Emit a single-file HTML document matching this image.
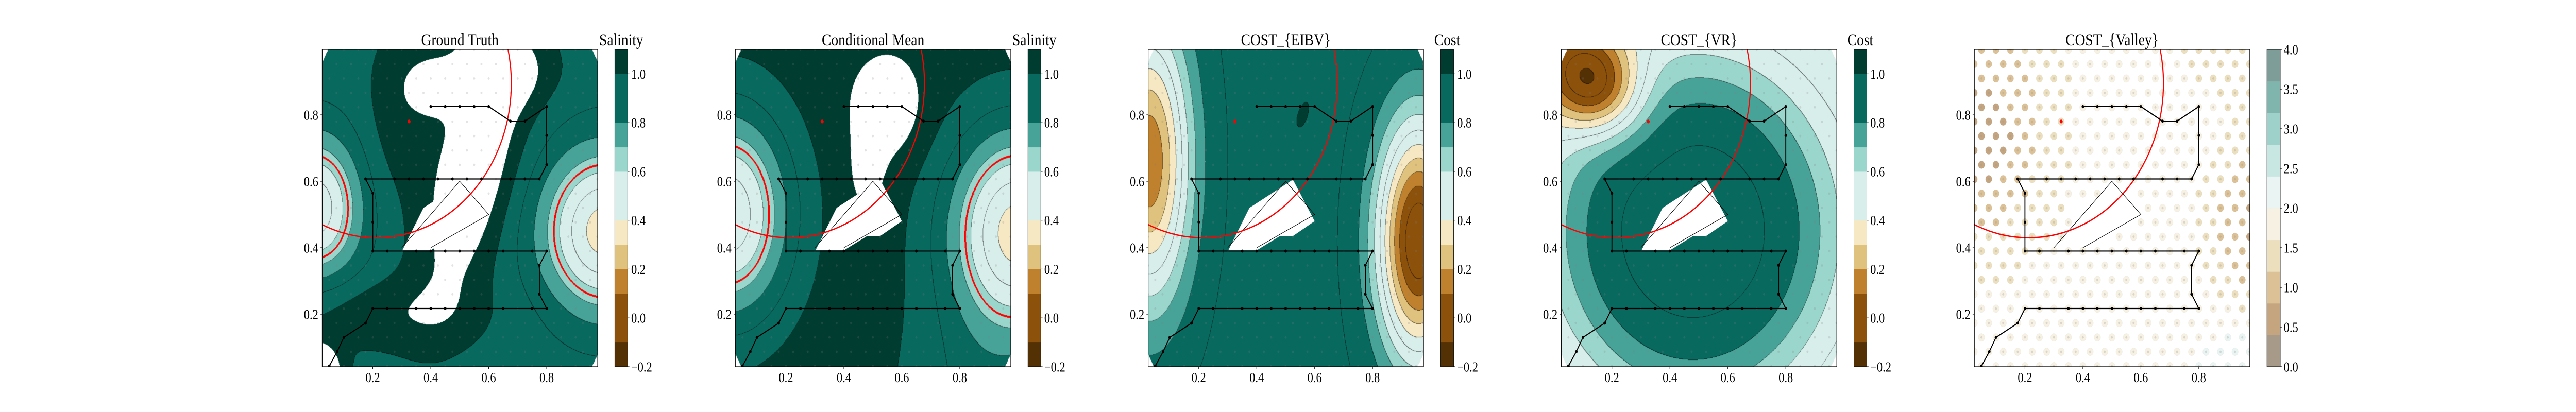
<!DOCTYPE html>
<html><head><meta charset="utf-8">
<style>
html,body{margin:0;padding:0;background:#fff;overflow:hidden;}
#root{position:relative;width:6000px;height:800px;overflow:hidden;background:#fff;transform-origin:0 0;}
canvas{position:absolute;}
svg{position:absolute;left:0;top:0;}
text{font-family:"Liberation Serif","DejaVu Serif",serif;fill:#000;}
</style></head>
<body>
<div id="root">
<svg id="ov" width="6000" height="800"></svg>
</div>
<script>
// ---------- data ----------
const panelTitles=['Ground Truth','Conditional Mean','COST_{EIBV}','COST_{VR}','COST_{Valley}'];
const cbarLabels=['Salinity','Salinity','Cost','Cost',''];
const xTicks=[0.2,0.4,0.6,0.8];
const yTicks=[0.2,0.4,0.6,0.8];
const cbarTicks=[-0.2,0.0,0.2,0.4,0.6,0.8,1.0];
const valleyTicks=[0.0,0.5,1.0,1.5,2.0,2.5,3.0,3.5,4.0];
const levelColors=['#543005','#8c510a','#8c510a','#bf812d','#dfc27d','#f6e8c3','#d8eeea','#d8eeea','#9ad6cc','#47a398','#08695f','#08695f','#003c30'];
const valleyColors=['#a89a88','#c4a580','#dcc196','#ecdfbe','#f6f1e3','#eaf4f2','#c8e7e2','#9fd1cb','#80b5ae','#7f9d98'];
const pathX=[0.05,0.077,0.1,0.175,0.2,0.8,0.775,0.775,0.8,0.2,0.2,0.2,0.175,0.775,0.8,0.8,0.8,0.725,0.675,0.6,0.4];
const pathY=[0.044,0.087,0.13,0.173,0.217,0.217,0.26,0.347,0.39,0.39,0.477,0.564,0.607,0.607,0.65,0.738,0.825,0.781,0.781,0.825,0.825];
const markX=[0.25,0.35,0.4,0.45,0.5,0.55,0.6,0.65,0.75, 0.25,0.35,0.4,0.45,0.5,0.55,0.6,0.65,0.75, 0.275,0.325,0.375,0.425,0.475,0.525,0.575,0.675,0.725, 0.45,0.5,0.55];
const markY=[0.217,0.217,0.217,0.217,0.217,0.217,0.217,0.217,0.217, 0.39,0.39,0.39,0.39,0.39,0.39,0.39,0.39,0.39, 0.607,0.607,0.607,0.607,0.607,0.607,0.607,0.607,0.607, 0.825,0.825,0.825];
const obstacleX=[0.302,0.375,0.525,0.6,0.525,0.48,0.4];
const obstacleY=[0.392,0.52,0.605,0.48,0.435,0.435,0.392];
const wedgeX=[0.3,0.5,0.6,0.4];
const wedgeY=[0.4,0.6,0.5,0.4];
const circleCenter=[0.213,0.895];
const circleRadius=0.465;
const targetPoint=[0.325,0.78];
// field parameters: [cx, cy, sx, sy, amplitude, angleDeg]
const gtBase=0.95;
const gtBumps=[[0.55,0.65,0.10,0.30,0.28,-15],[0.60,0.93,0.15,0.08,0.18,0],[0.20,0.20,0.26,0.08,0.12,0],[0.28,0.80,0.08,0.20,0.10,0],[0.40,0.88,0.05,0.05,0.22,0],[0.00,0.52,0.11,0.15,-0.52,0],[1.00,0.45,0.15,0.17,-0.60,0],[0.00,0.02,0.06,0.06,0.40,0]];
const cmBase=1.06;
const cmBumps=[[0.00,0.50,0.15,0.22,-0.64,0],[1.00,0.45,0.17,0.22,-0.70,0],[0.85,-0.10,0.20,0.25,-0.15,0],[0.55,0.82,0.09,0.11,0.12,0],[0.48,0.62,0.045,0.09,0.08,0]];
const eibvBase=0.92;
const eibvBumps=[[0.03,0.66,0.10,0.30,-0.80,0],[0.96,0.42,0.10,0.25,-1.02,0],[0.56,0.80,0.015,0.035,0.15,-20]];
const vrPlateau=[0.48,0.45,0.35,0.37,0.93,0.5];
const vrBumps=[[0.13,0.90,0.12,0.10,-0.64,-35]];
const valleyBase=1.8;
const valleyBumps=[[0.05,0.75,0.17,0.25,-1.2,0],[1.00,0.45,0.12,0.20,-1.1,0],[0.90,1.00,0.15,0.10,-0.4,0],[0.95,0.05,0.12,0.12,0.6,0]];
const redLevel=0.65;

// ---------- fit viewport (only if narrower than the 6000px frame) ----------
(function(){
  const vw=Math.min(window.innerWidth||6000, document.documentElement.clientWidth||6000);
  if(vw>0 && vw<6000){
    document.getElementById('root').style.transform='scale('+(vw/6000)+',1)';
  }
})();

// ---------- geometry ----------
const PL=[750.5,1712.8,2674.3,3636.7,4598.7], PW=641.5, PT=96, PH=616;
const X0=0.0255, XS=0.9505;
function px(i,x){return PL[i]+(x-X0)/XS*PW;}
function py(y){return 739-y*645;}
function cbY(t){return PT+(1.1-t)/1.3*PH;}
function vbY(t){return PT+(4-t)/4*PH;}

function bumpSum(b,x,y){
  let s=0;
  for(const q of b){
    const a=q[5]*Math.PI/180, dx=x-q[0], dy=y-q[1];
    const u=dx*Math.cos(a)+dy*Math.sin(a), w=-dx*Math.sin(a)+dy*Math.cos(a);
    s+=q[4]*Math.exp(-(u*u/(2*q[2]*q[2])+w*w/(2*q[3]*q[3])));
  }
  return s;
}
function field(i,x,y){
  if(i===0) return gtBase+bumpSum(gtBumps,x,y);
  if(i===1) return cmBase+bumpSum(cmBumps,x,y);
  if(i===2) return eibvBase+bumpSum(eibvBumps,x,y);
  if(i===3){
    const p=vrPlateau, rx=(x-p[0])/p[2], ry=(y-p[1])/p[3], r2=(rx*rx+ry*ry)/2;
    return p[4]-p[5]*(1-Math.exp(-r2*r2))+bumpSum(vrBumps,x,y);
  }
  return valleyBase+bumpSum(valleyBumps,x,y);
}
function hex(c){return [parseInt(c.substr(1,2),16),parseInt(c.substr(3,2),16),parseInt(c.substr(5,2),16)];}
function inPoly(x,y,X,Y){
  let c=false;
  for(let i=0,j=X.length-1;i<X.length;j=i++){
    if(((Y[i]>y)!==(Y[j]>y))&&(x<(X[j]-X[i])*(y-Y[i])/(Y[j]-Y[i])+X[i]))c=!c;
  }
  return c;
}

// ---------- contour rasters ----------
const root=document.getElementById('root');
const lc=levelColors.map(hex);
const canvasNames=['ground-truth-contour','conditional-mean-contour','eibv-cost-contour','vr-cost-contour'];
for(let i=0;i<4;i++){
  const W=642,H=616;
  const cv=document.createElement('canvas');
  cv.width=W;cv.height=H;
  cv.style.left=PL[i]+'px';cv.style.top=PT+'px';
  
  
  root.insertBefore(cv,document.getElementById('ov'));
  const ctx=cv.getContext('2d');
  const img=ctx.createImageData(W,H);
  const V=new Float32Array(W*H), L=new Int8Array(W*H), M=new Uint8Array(W*H);
  for(let r=0;r<H;r++)for(let c=0;c<W;c++){
    const x=X0+(c+0.5)/PW*XS, y=(739-(PT+r+0.5))/645;
    const k=r*W+c;
    const cx=Math.min(x-X0,0.976-x)/0.02, cy=Math.min(y-0.042,0.997-y)/0.038;
    if(cx+cy<1){M[k]=1;L[k]=-1;continue;}
    const v=field(i,x,y);V[k]=v;
    const idx=Math.floor((v+0.2)/0.1);
    L[k]=(idx<0||idx>12)?-1:idx;
  }
  const red=(i<2);
  for(let r=0;r<H;r++)for(let c=0;c<W;c++){
    const k=r*W+c, o=k*4;
    let col=[255,255,255];
    if(L[k]>=0){
      col=lc[L[k]].slice();
      let edge=false;
      if(c+1<W&&L[k+1]>=0&&L[k+1]!==L[k])edge=true;
      if(r+1<H&&L[k+W]>=0&&L[k+W]!==L[k])edge=true;
      if(edge)col=col.map(v=>v*0.45);
    }
    if(red&&!M[k]){
      const s=V[k]>redLevel;
      const nb=[[1,0],[-1,0],[0,1],[0,-1],[2,0],[-2,0],[0,2],[0,-2],[1,1],[-1,-1],[1,-1],[-1,1]];
      for(const d of nb){
        const cc=c+d[0], rr=r+d[1];
        if(cc<0||rr<0||cc>=W||rr>=H)continue;
        const kk=rr*W+cc; if(M[kk])continue;
        if((V[kk]>redLevel)!==s){col=[255,0,0];break;}
      }
    }
    img.data[o]=col[0];img.data[o+1]=col[1];img.data[o+2]=col[2];img.data[o+3]=255;
  }
  ctx.putImageData(img,0,0);
}

// ---------- overlay ----------
const svg=document.getElementById('ov');
function mk(tag,attrs,parent){
  const e=document.createElementNS('http://www.w3.org/2000/svg',tag);
  for(const k in attrs)e.setAttribute(k,attrs[k]);
  (parent||svg).appendChild(e);return e;
}
const defs=mk('defs',{});
const fmt=t=>(t<0?'\u2212':'')+Math.abs(t).toFixed(1);

for(let i=0;i<5;i++){
  const g=mk('g',{});
  
  
  const cp=mk('clipPath',{id:'clip'+i},defs);
  mk('rect',{x:PL[i],y:PT,width:PW,height:PH},cp);
  const inner=mk('g',{'clip-path':'url(#clip'+i+')'},g);
  
  

  if(i<4){
    const ob=mk('polygon',{points:obstacleX.map((x,j)=>px(i,x)+','+py(obstacleY[j])).join(' '),fill:'#fff'},inner);
    
    
  }
  for(let k=0;k<23;k++){
    const y=0.996-k*0.0433;
    for(let j=0;j<21;j++){
      const x=(k%2===0?0.05:0.025)+j*0.05;
      if(x>0.99)continue;
      if(inPoly(x,y,obstacleX,obstacleY))continue;
      if(i===4){
        const v=field(4,x,y);
        const b=Math.max(0,Math.min(9,Math.floor(v/0.4)));
        const vc=mk('circle',{cx:px(i,x),cy:py(y),r:7.5,fill:valleyColors[b],stroke:'rgba(0,0,0,0.04)','stroke-width':1},inner);
        
        
      }
      const d=mk('circle',{cx:px(i,x),cy:py(y),r:2.4,fill:i===4?'rgba(150,150,150,0.3)':'rgba(128,128,128,0.22)'},inner);
      
      
    }
  }
  const wg=mk('polyline',{points:wedgeX.map((x,j)=>px(i,x)+','+py(wedgeY[j])).join(' '),fill:'none',stroke:'#000','stroke-width':1.1},inner);
  
  
  const ec=mk('ellipse',{cx:px(i,circleCenter[0]),cy:py(circleCenter[1]),rx:circleRadius/XS*PW,ry:circleRadius*645,fill:'none',stroke:'#ff0000','stroke-width':2.6},inner);
  
  
  const pl=mk('polyline',{points:pathX.map((x,j)=>px(i,x)+','+py(pathY[j])).join(' '),fill:'none',stroke:'#000','stroke-width':2.2,'stroke-linejoin':'round'},inner);
  
  
  for(let j=0;j<pathX.length;j++){
    const m=mk('circle',{cx:px(i,pathX[j]),cy:py(pathY[j]),r:3,fill:'#000'},inner);
    
    
  }
  for(let j=0;j<markX.length;j++){
    const m=mk('circle',{cx:px(i,markX[j]),cy:py(markY[j]),r:3,fill:'#000'},inner);
    
    
  }
  const tp=mk('circle',{cx:px(i,targetPoint[0]),cy:py(targetPoint[1]),r:3.6,fill:'#ff0000'},inner);
  
  

  const fr=mk('rect',{x:PL[i],y:PT,width:PW,height:PH,fill:'none',stroke:'#000','stroke-width':1.3},g);
  
  

  for(const t of xTicks){
    const X=px(i,t);
    const tk=mk('line',{x1:X,x2:X,y1:PT+PH,y2:PT+PH+4,stroke:'#000','stroke-width':1.1},g);
    
    
    const tl=mk('text',{x:X,y:742,'text-anchor':'middle','font-size':27},g);
    tl.textContent=t.toFixed(1);
    
    
  }
  for(const t of yTicks){
    const Y=py(t);
    const tk=mk('line',{x1:PL[i]-4,x2:PL[i],y1:Y,y2:Y,stroke:'#000','stroke-width':1.1},g);
    
    
    const tl=mk('text',{x:PL[i]-9,y:Y+9.5,'text-anchor':'end','font-size':27},g);
    tl.textContent=t.toFixed(1);
    
    
  }
  const ti=mk('text',{x:PL[i]+PW/2,y:88,'text-anchor':'middle','font-size':33},g);
  ti.textContent=panelTitles[i];
  
  

  const CX=PL[i]+681.5, CW=(i===4?31:30);
  const cb=mk('g',{},g);
  
  
  if(i<4){
    for(let b=0;b<13;b++){
      const lo=-0.2+b*0.1;
      const r=mk('rect',{x:CX,y:cbY(lo+0.1),width:CW,height:cbY(lo)-cbY(lo+0.1)+0.5,fill:levelColors[b]},cb);
      
      
    }
    for(const t of cbarTicks){
      const Y=cbY(t);
      const tk=mk('line',{x1:CX+CW,x2:CX+CW+4,y1:Y,y2:Y,stroke:'#000','stroke-width':1.1},cb);
      
      
      const tl=mk('text',{x:CX+CW+8,y:Y+9.5,'font-size':27},cb);
      tl.textContent=fmt(t);
      
      
    }
    const cl=mk('text',{x:CX+CW/2,y:88,'text-anchor':'middle','font-size':33},cb);
    cl.textContent=cbarLabels[i];
    
    
  } else {
    for(let b=0;b<10;b++){
      const lo=b*0.4;
      const r=mk('rect',{x:CX,y:vbY(lo+0.4),width:CW,height:vbY(lo)-vbY(lo+0.4)+0.5,fill:valleyColors[b]},cb);
      
      
    }
    for(const t of valleyTicks){
      const Y=vbY(t);
      const tk=mk('line',{x1:CX+CW,x2:CX+CW+4,y1:Y,y2:Y,stroke:'#000','stroke-width':1.1},cb);
      
      
      const tl=mk('text',{x:CX+CW+8,y:Y+9.5,'font-size':27},cb);
      tl.textContent=fmt(t);
      
      
    }
  }
  const cbf=mk('rect',{x:CX,y:PT,width:CW,height:PH,fill:'none',stroke:'#000','stroke-width':1},cb);
  
  
}
</script>
</body></html>
